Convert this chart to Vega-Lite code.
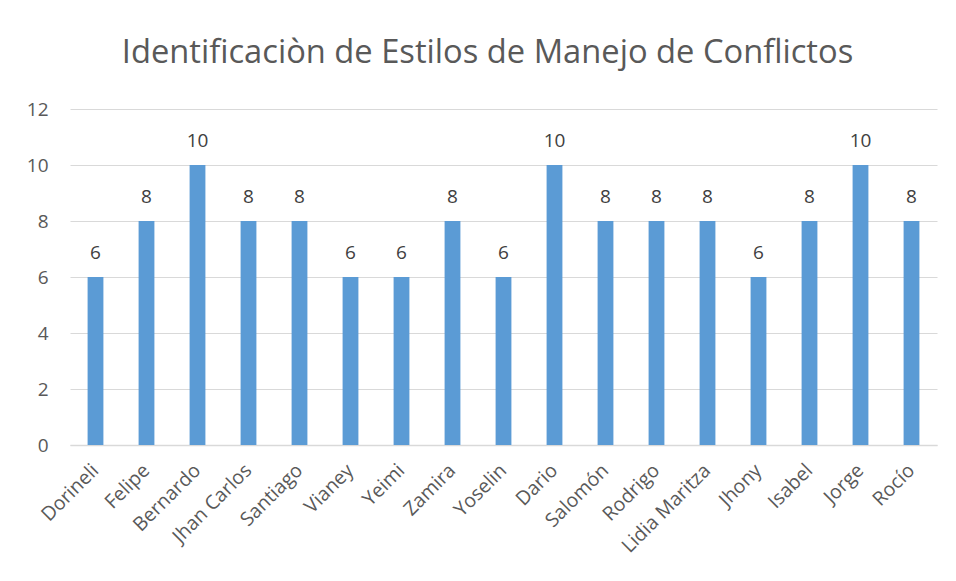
{
  "$schema": "https://vega.github.io/schema/vega-lite/v6.json",
  "autosize": {"type": "none"},
  "width": 867,
  "height": 336,
  "padding": {"left": 70, "top": 109, "right": 19, "bottom": 136},
  "background": "white",
  "title": {
    "text": "Identificaciòn de Estilos de Manejo de Conflictos",
    "font": "Open Sans",
    "fontSize": 32.7,
    "fontWeight": "normal",
    "color": "#595959",
    "anchor": "middle",
    "frame": "group",
    "dx": -16,
    "offset": 30
  },
  "data": {
    "values": [
      {"nombre": "Dorineli", "valor": 6},
      {"nombre": "Felipe", "valor": 8},
      {"nombre": "Bernardo", "valor": 10},
      {"nombre": "Jhan Carlos", "valor": 8},
      {"nombre": "Santiago", "valor": 8},
      {"nombre": "Vianey", "valor": 6},
      {"nombre": "Yeimi", "valor": 6},
      {"nombre": "Zamira", "valor": 8},
      {"nombre": "Yoselin", "valor": 6},
      {"nombre": "Dario", "valor": 10},
      {"nombre": "Salomón", "valor": 8},
      {"nombre": "Rodrigo", "valor": 8},
      {"nombre": "Lidia Maritza", "valor": 8},
      {"nombre": "Jhony", "valor": 6},
      {"nombre": "Isabel", "valor": 8},
      {"nombre": "Jorge", "valor": 10},
      {"nombre": "Rocío", "valor": 8}
    ]
  },
  "encoding": {
    "x": {
      "field": "nombre",
      "type": "nominal",
      "sort": null,
      "title": null,
      "scale": {"paddingInner": 0.69, "paddingOuter": 0.345},
      "axis": {
        "labelAngle": -45,
        "labelAlign": "right",
        "labelBaseline": "middle",
        "labelFont": "Open Sans",
        "labelFontSize": 19.5,
        "labelColor": "#595959",
        "labelPadding": 22,
        "labelOverlap": false,
        "ticks": false,
        "domainColor": "#d9d9d9",
        "domainWidth": 1.5,
        "grid": false
      }
    },
    "y": {
      "field": "valor",
      "type": "quantitative",
      "title": null,
      "scale": {"domain": [0, 12]},
      "axis": {
        "values": [0, 2, 4, 6, 8, 10, 12],
        "labelFont": "Open Sans",
        "labelFontSize": 19,
        "labelColor": "#595959",
        "labelPadding": 22,
        "ticks": false,
        "domain": false,
        "gridColor": "#d9d9d9",
        "gridWidth": 1
      }
    }
  },
  "layer": [
    {"mark": {"type": "bar", "color": "#5b9bd5"}},
    {
      "mark": {
        "type": "text",
        "dy": -18,
        "baseline": "alphabetic",
        "font": "Open Sans",
        "fontSize": 19,
        "color": "#404040"
      },
      "encoding": {"text": {"field": "valor", "type": "quantitative"}}
    }
  ],
  "config": {"view": {"stroke": null}}
}
